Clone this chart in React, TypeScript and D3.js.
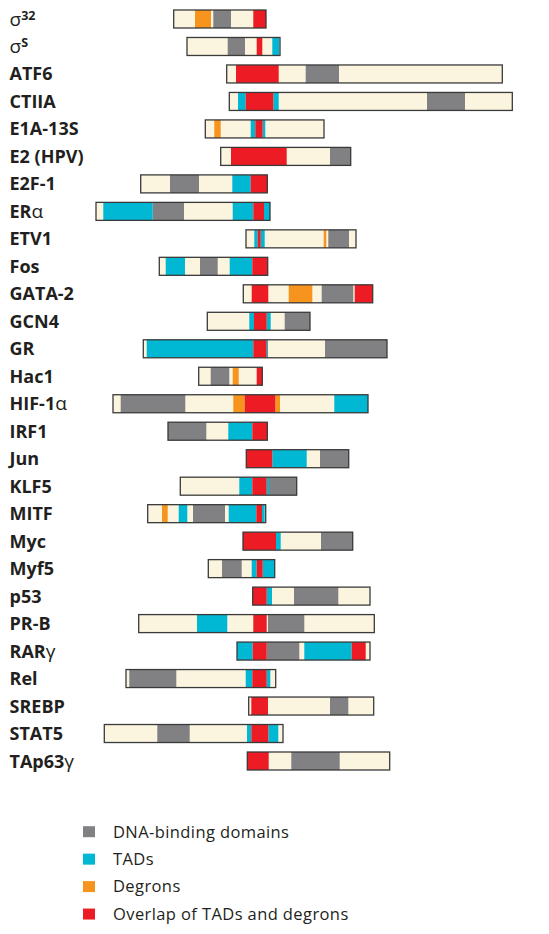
import React from "react";
import * as d3 from "d3";

// Protein names (rows), top to bottom
const proteins = [
  "σ32", "σS", "ATF6", "CTIIA", "E1A-13S", "E2 (HPV)", "E2F-1", "ERα", "ETV1", "Fos",
  "GATA-2", "GCN4", "GR", "Hac1", "HIF-1α", "IRF1", "Jun", "KLF5", "MITF", "Myc",
  "Myf5", "p53", "PR-B", "RARγ", "Rel", "SREBP", "STAT5", "TAp63γ",
];

// Full-length extent of each protein on the aligned axis
const proteinStart = [173.7, 187, 226.7, 229.3, 205.3, 220.7, 140.7, 96, 246, 159.3,
  243.3, 207.3, 143.3, 198.7, 113, 168, 246.3, 180.3, 147.7, 243,
  208.3, 252.7, 138.7, 237, 126, 248.7, 104.3, 247.3];
const proteinEnd = [266, 280, 502.3, 512.3, 324, 350.7, 267.3, 270, 356, 267.7,
  372.7, 310, 387, 262.3, 368, 267.3, 348.7, 296.7, 265.7, 352.7,
  274.7, 370, 374.3, 370, 275.7, 373.7, 283, 389.7];

// Domains: [row index, start, end]
const dnaBinding: [number, number, number][] = [
  [0, 213.3, 231], [1, 227.7, 245], [2, 305.7, 339], [3, 427, 465], [5, 330, 350.7],
  [6, 170, 199], [7, 152.7, 184], [8, 328.3, 349], [9, 200, 217.7], [10, 321.7, 353.3],
  [11, 284.7, 310], [12, 325, 387], [13, 210.7, 229.3], [14, 120.7, 185.3], [15, 168, 206.3],
  [16, 320, 348.7], [17, 269, 296.7], [18, 193, 225], [19, 321, 352.7], [20, 222, 241.7],
  [21, 294, 338.3], [22, 268, 304.3], [23, 266.7, 299.3], [24, 129.3, 176.3], [25, 330, 348.3],
  [26, 157.3, 189.7], [27, 291.3, 339.7],
];

const tads: [number, number, number][] = [
  [1, 272.3, 279.3], [3, 238, 245.7], [3, 273.3, 278.7], [4, 250.7, 255.3], [4, 262.7, 265.3],
  [6, 232.3, 250.7], [7, 103.3, 152.7], [7, 232.7, 253.3], [7, 264, 270], [8, 254.3, 257.7],
  [8, 260.7, 264.7], [9, 165.7, 185], [9, 229.7, 252.3], [11, 249.3, 254], [11, 266.7, 270.7],
  [12, 146.7, 253.3], [12, 266.7, 268], [14, 334.3, 368], [15, 228.3, 252.3], [16, 272.3, 306.7],
  [17, 239.3, 252.3], [17, 266.7, 269], [18, 178.7, 187.3], [18, 228.7, 256.3], [18, 262, 264.7],
  [19, 276, 280.7], [20, 251.7, 256.7], [20, 262.7, 274.7], [21, 266.7, 272], [22, 197, 227.3],
  [23, 237, 252.7], [23, 304.3, 351.7], [24, 245.7, 252.3], [24, 266.7, 270.3], [26, 247, 251.3],
  [26, 268.3, 278.3],
];

const degrons: [number, number, number][] = [
  [0, 195, 211], [4, 214.3, 220.7], [8, 323.7, 326.3], [10, 288.7, 312.3], [13, 232.7, 238.7],
  [14, 233.3, 244.7], [14, 275.3, 280], [18, 162, 167.7],
];

const overlaps: [number, number, number][] = [
  [0, 253.3, 266], [1, 256.7, 262.3], [2, 236, 278.7], [3, 245.7, 273.3], [4, 255.3, 262.7],
  [5, 231, 286.7], [6, 250.7, 267.3], [7, 253.3, 264], [8, 257.7, 260.7], [9, 252.3, 267.7],
  [10, 251.7, 268.3], [10, 354.7, 372.7], [11, 254, 266.7], [12, 253.3, 266.7], [13, 256.7, 262.3],
  [14, 244.7, 275.3], [15, 252.3, 267.3], [16, 246.3, 272.3], [17, 252.3, 266.7], [18, 256.3, 262],
  [19, 243, 276], [20, 256.7, 262.7], [21, 252.7, 266.7], [22, 253.3, 266.7], [23, 252.7, 266.7],
  [23, 351.7, 365.7], [24, 252.3, 266.7], [25, 251.3, 268], [26, 251.3, 268.3], [27, 247.3, 268.7],
];

const legendLabels = ["DNA-binding domains", "TADs", "Degrons", "Overlap of TADs and degrons"];

const COLORS = {
  base: "#FBF5DF",
  dna: "#818184",
  tad: "#00B8D4",
  degron: "#F7941D",
  overlap: "#ED1C24",
  stroke: "#3A3A3A",
};
const legendColors = [COLORS.dna, COLORS.tad, COLORS.degron, COLORS.overlap];

const W = 549;
const H = 934;

const x = d3.scaleLinear().domain([0, W]).range([0, W]);
const y = d3.scalePoint<number>().domain(d3.range(proteins.length)).range([19, 761]);
const BAR_H = 18;

const LABEL_FONT = "'Open Sans', 'DejaVu Sans', sans-serif";

function Label({ name, yy }: { name: string; yy: number }) {
  const base = { fontFamily: LABEL_FONT, fontWeight: 700, fontSize: 18, fill: "#231F20" };
  if (name === "σ32" || name === "σS") {
    return (
      <text x={9.5} y={yy + 6.5} style={base}>
        <tspan style={{ fontWeight: 400, fontSize: 19 }}>σ</tspan>
        <tspan dy={-6} style={{ fontSize: 12.5 }}>{name.slice(1)}</tspan>
      </text>
    );
  }
  const m = name.match(/^(.*?)([αγ])$/);
  if (m) {
    return (
      <text x={9.5} y={yy + 6.5} style={base}>
        {m[1]}
        <tspan style={{ fontWeight: 400, fontSize: 19 }}>{m[2]}</tspan>
      </text>
    );
  }
  return (
    <text x={9.5} y={yy + 6.5} style={base}>
      {name}
    </text>
  );
}

function Segs({ data, color }: { data: [number, number, number][]; color: string }) {
  return (
    <g>
      {data.map(([r, s, e], i) => (
        <rect
          key={i}
          x={x(s)}
          y={(y(r) as number) - BAR_H / 2}
          width={x(e) - x(s)}
          height={BAR_H}
          fill={color}
        />
      ))}
    </g>
  );
}

export default function App() {
  return (
    <svg
      width={W}
      height={H}
      viewBox={`0 0 ${W} ${H}`}
      style={{ position: "absolute", left: 0, top: 0, background: "#fff" }}
    >
      <rect x={0} y={0} width={W} height={H} fill="#fff" />
      {proteins.map((p, i) => (
        <Label key={p} name={p} yy={y(i) as number} />
      ))}
      {proteins.map((p, i) => (
        <rect
          key={"b" + p}
          x={x(proteinStart[i])}
          y={(y(i) as number) - BAR_H / 2}
          width={x(proteinEnd[i]) - x(proteinStart[i])}
          height={BAR_H}
          fill={COLORS.base}
        />
      ))}
      <Segs data={dnaBinding} color={COLORS.dna} />
      <Segs data={tads} color={COLORS.tad} />
      <Segs data={degrons} color={COLORS.degron} />
      <Segs data={overlaps} color={COLORS.overlap} />
      {proteins.map((p, i) => (
        <rect
          key={"o" + p}
          x={x(proteinStart[i])}
          y={(y(i) as number) - BAR_H / 2}
          width={x(proteinEnd[i]) - x(proteinStart[i])}
          height={BAR_H}
          fill="none"
          stroke={COLORS.stroke}
          strokeWidth={1.3}
        />
      ))}
      {legendLabels.map((l, i) => (
        <g key={l} transform={`translate(0, ${831.7 + i * 27.45})`}>
          <rect x={83} y={-5.5} width={12} height={11} fill={legendColors[i]} />
          <text
            x={113}
            y={5.8}
            style={{ fontFamily: LABEL_FONT, fontSize: 16.5, letterSpacing: 0.4, fill: "#231F20" }}
          >
            {l}
          </text>
        </g>
      ))}
    </svg>
  );
}
